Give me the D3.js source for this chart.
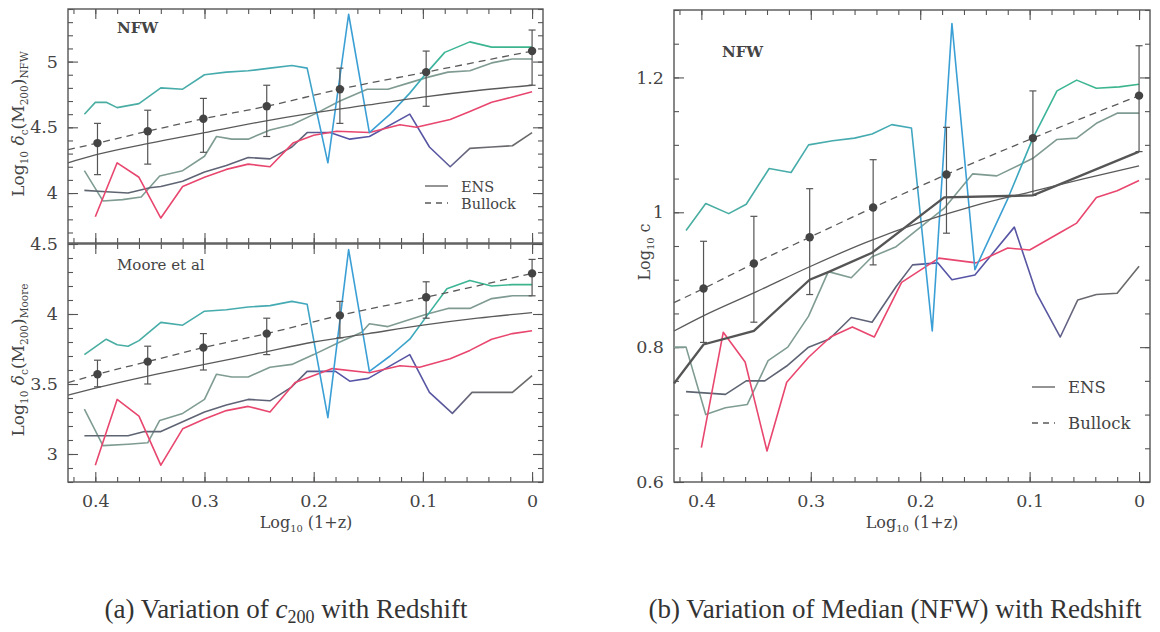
<!DOCTYPE html>
<html>
<head>
<meta charset="utf-8">
<script src="https://cdn.jsdelivr.net/npm/d3@7"></script>
<style>
  body { margin: 0; background: #fff; }
  svg text { font-family: "DejaVu Serif", serif; fill: #444; }
</style>
</head>
<body>
<svg id="chart" width="1160" height="632"></svg>
<script>
//x axis: Log10(1+z), shared by all panels
var xMajor = [0.4, 0.3, 0.2, 0.1, 0];
var zBins = [0.398, 0.352, 0.301, 0.243, 0.176, 0.097, 0];

//panel (a) top: NFW
var nfwTicks = [4, 4.5, 5];
var nfwMed = [4.38, 4.47, 4.565, 4.66, 4.79, 4.92, 5.08];
var nfwHi = [4.53, 4.63, 4.72, 4.82, 4.95, 5.08, 5.24];
var nfwLo = [4.14, 4.22, 4.31, 4.43, 4.53, 4.66, 4.82];
var nfwEns = [[0.425,4.23],[0.4,4.29],[0.35,4.38],[0.3,4.46],[0.25,4.54],[0.2,4.61],[0.15,4.67],[0.1,4.73],[0.05,4.78],[0,4.82]];
var nfwBullock = [[0.425,4.33],[0.398,4.38],[0.352,4.47],[0.301,4.565],[0.243,4.66],[0.176,4.79],[0.097,4.92],[0,5.08]];
var nfwTeal = [[0.41,4.60],[0.40,4.69],[0.39,4.69],[0.38,4.65],[0.36,4.68],[0.34,4.80],[0.32,4.79],[0.30,4.90],[0.28,4.92],[0.26,4.93],[0.24,4.95],[0.22,4.97],[0.206,4.95],[0.187,4.23],[0.168,5.36],[0.149,4.46],[0.13,4.60],[0.112,4.76],[0.096,4.92],[0.08,5.07],[0.057,5.15],[0.037,5.11],[0.018,5.11],[0,5.11]];
var nfwGrey = [[0.41,4.17],[0.393,3.94],[0.375,3.95],[0.358,3.97],[0.341,4.13],[0.32,4.17],[0.30,4.28],[0.289,4.43],[0.275,4.41],[0.26,4.41],[0.24,4.48],[0.22,4.52],[0.197,4.61],[0.176,4.70],[0.151,4.79],[0.132,4.79],[0.112,4.84],[0.096,4.88],[0.077,4.92],[0.057,4.93],[0.037,4.99],[0.018,5.02],[0,5.02]];
var nfwDark = [[0.41,4.02],[0.39,4.01],[0.37,4.00],[0.35,4.04],[0.34,4.05],[0.32,4.09],[0.30,4.16],[0.28,4.21],[0.26,4.27],[0.24,4.26],[0.22,4.35],[0.206,4.46],[0.185,4.46],[0.167,4.41],[0.149,4.43],[0.112,4.60],[0.094,4.35],[0.075,4.20],[0.057,4.34],[0.037,4.35],[0.018,4.36],[0,4.46]];
var nfwRed = [[0.40,3.82],[0.38,4.23],[0.36,4.12],[0.34,3.81],[0.32,4.05],[0.30,4.12],[0.28,4.18],[0.26,4.22],[0.24,4.20],[0.219,4.38],[0.2,4.44],[0.179,4.47],[0.149,4.46],[0.121,4.52],[0.106,4.50],[0.075,4.56],[0.057,4.62],[0.037,4.69],[0.018,4.73],[0,4.77]];

//panel (a) bottom: Moore et al
var mooreTicks = [3, 3.5, 4, 4.5];
var mooreMed = [3.57, 3.66, 3.76, 3.86, 3.99, 4.12, 4.29];
var mooreHi = [3.67, 3.77, 3.86, 3.97, 4.09, 4.23, 4.39];
var mooreLo = [3.48, 3.50, 3.60, 3.71, 3.83, 3.97, 4.13];
var mooreEns = [[0.425,3.42],[0.4,3.47],[0.35,3.56],[0.3,3.64],[0.25,3.72],[0.2,3.80],[0.15,3.86],[0.1,3.92],[0.05,3.97],[0,4.01]];
var mooreBullock = [[0.425,3.51],[0.398,3.57],[0.352,3.66],[0.301,3.76],[0.243,3.86],[0.176,3.99],[0.097,4.12],[0,4.29]];
var mooreTeal = [[0.41,3.71],[0.39,3.82],[0.38,3.78],[0.37,3.77],[0.36,3.81],[0.34,3.94],[0.32,3.92],[0.30,4.02],[0.28,4.03],[0.26,4.05],[0.24,4.06],[0.22,4.09],[0.206,4.07],[0.187,3.26],[0.168,4.46],[0.149,3.59],[0.13,3.70],[0.112,3.82],[0.096,3.99],[0.078,4.18],[0.057,4.24],[0.037,4.20],[0.018,4.21],[0,4.21]];
var mooreGrey = [[0.41,3.32],[0.393,3.06],[0.37,3.07],[0.352,3.08],[0.341,3.24],[0.32,3.29],[0.30,3.39],[0.289,3.57],[0.275,3.55],[0.26,3.55],[0.24,3.62],[0.22,3.64],[0.2,3.71],[0.176,3.80],[0.156,3.87],[0.149,3.93],[0.132,3.91],[0.112,3.96],[0.096,4.00],[0.077,4.04],[0.057,4.04],[0.037,4.11],[0.018,4.13],[0,4.13]];
var mooreDark = [[0.41,3.13],[0.37,3.13],[0.355,3.16],[0.34,3.16],[0.32,3.23],[0.30,3.30],[0.28,3.35],[0.26,3.39],[0.24,3.38],[0.22,3.48],[0.206,3.59],[0.18,3.59],[0.167,3.52],[0.15,3.54],[0.112,3.71],[0.094,3.44],[0.073,3.29],[0.055,3.44],[0.018,3.44],[0,3.56]];
var mooreRed = [[0.40,2.92],[0.38,3.39],[0.36,3.27],[0.34,2.92],[0.32,3.18],[0.30,3.25],[0.28,3.31],[0.26,3.34],[0.24,3.30],[0.217,3.51],[0.183,3.61],[0.149,3.58],[0.121,3.63],[0.103,3.62],[0.075,3.68],[0.057,3.74],[0.037,3.82],[0.018,3.86],[0,3.88]];

//panel (b): median concentration
var cTicks = [0.6, 0.8, 1, 1.2];
var cMed = [0.887, 0.924, 0.963, 1.007, 1.056, 1.110, 1.173];
var cHi = [0.957, 0.994, 1.035, 1.078, 1.126, 1.18, 1.247];
var cLo = [0.807, 0.837, 0.878, 0.922, 0.969, 1.025, 1.09];
var cEns = [[0.425,0.824],[0.4,0.845],[0.35,0.882],[0.3,0.92],[0.25,0.955],[0.2,0.985],[0.15,1.01],[0.1,1.03],[0.05,1.05],[0,1.069]];
var cBullock = [[0.425,0.866],[0.398,0.887],[0.352,0.924],[0.301,0.963],[0.243,1.007],[0.176,1.056],[0.097,1.11],[0,1.173]];
var cThick = [[0.425,0.746],[0.398,0.804],[0.352,0.824],[0.301,0.90],[0.283,0.912],[0.244,0.94],[0.178,1.022],[0.097,1.025],[0,1.09]];
var cTeal = [[0.414,0.973],[0.396,1.013],[0.375,0.998],[0.359,1.012],[0.338,1.065],[0.318,1.059],[0.302,1.10],[0.28,1.106],[0.26,1.11],[0.244,1.116],[0.226,1.13],[0.208,1.125],[0.189,0.824],[0.171,1.28],[0.15,0.915],[0.12,1.02],[0.097,1.11],[0.075,1.18],[0.057,1.196],[0.039,1.184],[0.018,1.186],[0,1.19]];
var cGrey = [[0.425,0.80],[0.414,0.80],[0.396,0.70],[0.378,0.71],[0.358,0.715],[0.339,0.78],[0.321,0.80],[0.302,0.846],[0.284,0.912],[0.263,0.903],[0.244,0.934],[0.222,0.949],[0.178,1.006],[0.152,1.057],[0.13,1.054],[0.097,1.08],[0.075,1.108],[0.057,1.11],[0.039,1.132],[0.02,1.147],[0,1.147]];
var cDark = [[0.414,0.734],[0.378,0.73],[0.359,0.75],[0.342,0.75],[0.322,0.772],[0.302,0.80],[0.283,0.812],[0.263,0.844],[0.244,0.837],[0.222,0.89],[0.207,0.922],[0.184,0.925],[0.171,0.90],[0.15,0.907],[0.114,0.978],[0.094,0.881],[0.072,0.815],[0.056,0.87],[0.039,0.878],[0.02,0.88],[0,0.92]];
var cRed = [[0.40,0.651],[0.38,0.822],[0.36,0.778],[0.34,0.646],[0.322,0.748],[0.302,0.785],[0.282,0.815],[0.262,0.83],[0.242,0.815],[0.217,0.896],[0.183,0.932],[0.149,0.925],[0.12,0.947],[0.10,0.944],[0.072,0.97],[0.057,0.984],[0.039,1.022],[0.02,1.032],[0,1.047]];

//colour stops along x for the multi-coloured runs
var tealStops = [[0.425,"#4aae9e"],[0.215,"#44aab4"],[0.195,"#3a9fd6"],[0.125,"#3b9fd4"],[0.085,"#3cb597"],[0,"#3cb58c"]];
var darkStops = [[0.425,"#5e6670"],[0.21,"#5f6278"],[0.19,"#5654a6"],[0.085,"#5856a2"],[0.055,"#6a6a72"],[0,"#6a6a6a"]];
var greyStops = [[0.425,"#7f9c92"],[0,"#7f9a92"]];
var redStops = [[0.425,"#e8466e"],[0,"#e8466e"]];

var svg = d3.select("#chart");
var defs = svg.append("defs");
var gradId = 0;
var axisColor = "#555";

//draw a set of inward ticks, optionally labelled
var addAxis = function(g, axis, transform) {
  var a = g.append("g").attr("transform", transform).call(axis);
  a.select(".domain").remove();
  a.selectAll("line").attr("stroke", axisColor).attr("stroke-width", 1.1);
  a.selectAll("text")
    .attr("font-size", 17.5)
    .attr("fill", "#444")
    .attr("font-family", "DejaVu Serif");
  return a;
};

var drawPanel = function(p) {
  var x = d3.scaleLinear().domain([0.425, -0.01]).range(p.xr);
  var y = d3.scaleLinear().domain(p.yd).range(p.yr);
  var g = svg.append("g");
  var w = p.xr[1] - p.xr[0];
  var h = p.yr[0] - p.yr[1];
  var xMinor = d3.range(0.42, -0.005, -0.02);
  var yMinor = d3.range(Math.ceil(p.yd[0] / p.minorStep - 1e-6), Math.floor(p.yd[1] / p.minorStep + 1e-6) + 1)
    .map(function(i) { return +(i * p.minorStep).toFixed(3); });

  //ticks on all four sides
  addAxis(g, d3.axisBottom(x).tickValues(xMinor).tickSize(-5).tickFormat(""), "translate(0," + p.yr[0] + ")");
  addAxis(g, d3.axisBottom(x).tickValues(xMajor).tickSize(-10).tickPadding(13)
    .tickFormat(p.xLabels ? d3.format("") : ""), "translate(0," + p.yr[0] + ")");
  addAxis(g, d3.axisTop(x).tickValues(xMinor).tickSize(-5).tickFormat(""), "translate(0," + p.yr[1] + ")");
  addAxis(g, d3.axisTop(x).tickValues(xMajor).tickSize(-10).tickFormat(""), "translate(0," + p.yr[1] + ")");
  addAxis(g, d3.axisLeft(y).tickValues(yMinor).tickSize(-5).tickFormat(""), "translate(" + p.xr[0] + ",0)");
  addAxis(g, d3.axisLeft(y).tickValues(p.yMajor).tickSize(-10).tickPadding(10).tickFormat(d3.format("")), "translate(" + p.xr[0] + ",0)");
  addAxis(g, d3.axisRight(y).tickValues(yMinor).tickSize(-5).tickFormat(""), "translate(" + p.xr[1] + ",0)");
  addAxis(g, d3.axisRight(y).tickValues(p.yMajor).tickSize(-10).tickFormat(""), "translate(" + p.xr[1] + ",0)");

  g.append("rect")
    .attr("x", p.xr[0]).attr("y", p.yr[1])
    .attr("width", w).attr("height", h)
    .attr("fill", "none").attr("stroke", axisColor).attr("stroke-width", 1.4);

  var line = d3.line().x(function(d) { return x(d[0]); }).y(function(d) { return y(d[1]); });
  var smooth = d3.line().curve(d3.curveMonotoneX).x(function(d) { return x(d[0]); }).y(function(d) { return y(d[1]); });

  //coloured runs, each with a gradient along x
  p.series.forEach(function(s) {
    var id = "grad" + gradId++;
    var grad = defs.append("linearGradient").attr("id", id)
      .attr("gradientUnits", "userSpaceOnUse")
      .attr("x1", p.xr[0]).attr("x2", p.xr[1]).attr("y1", 0).attr("y2", 0);
    s.stops.forEach(function(st) {
      grad.append("stop").attr("offset", (x(st[0]) - p.xr[0]) / w).attr("stop-color", st[1]);
    });
    g.append("path").datum(s.data)
      .attr("d", line)
      .attr("fill", "none")
      .attr("stroke", "url(#" + id + ")")
      .attr("stroke-width", 1.6)
      .attr("stroke-linejoin", "round");
  });

  if (p.thick) {
    g.append("path").datum(p.thick).attr("d", line)
      .attr("fill", "none").attr("stroke", "#555").attr("stroke-width", 2.3);
  }

  g.append("path").datum(p.ens).attr("d", smooth)
    .attr("fill", "none").attr("stroke", "#5a5a5a").attr("stroke-width", 1.3);
  g.append("path").datum(p.bullock).attr("d", smooth)
    .attr("fill", "none").attr("stroke", "#5a5a5a").attr("stroke-width", 1.3)
    .attr("stroke-dasharray", "7,5");

  //median points with error bars
  var pts = zBins.map(function(z, i) { return { x: z, m: p.med[i], hi: p.hi[i], lo: p.lo[i] }; });
  var eb = g.selectAll(".eb").data(pts).enter().append("g").attr("class", "eb");
  eb.append("line")
    .attr("x1", function(d) { return x(d.x); }).attr("x2", function(d) { return x(d.x); })
    .attr("y1", function(d) { return y(d.hi); }).attr("y2", function(d) { return y(d.lo); })
    .attr("stroke", "#555").attr("stroke-width", 1.2);
  ["hi", "lo"].forEach(function(k) {
    eb.append("line")
      .attr("x1", function(d) { return x(d.x) - 3.5; }).attr("x2", function(d) { return x(d.x) + 3.5; })
      .attr("y1", function(d) { return y(d[k]); }).attr("y2", function(d) { return y(d[k]); })
      .attr("stroke", "#555").attr("stroke-width", 1.2);
  });
  eb.append("circle")
    .attr("cx", function(d) { return x(d.x); }).attr("cy", function(d) { return y(d.m); })
    .attr("r", 4.2).attr("fill", "#444");

  //panel name
  g.append("text").attr("x", p.xr[0] + p.name[1]).attr("y", p.yr[1] + p.name[2])
    .attr("font-size", 15).attr("font-weight", p.name[3]).attr("fill", "#444").text(p.name[0]);

  //legend
  if (p.legend) {
    var lx = p.xr[1] - p.legend[0];
    var ly = p.yr[1] + p.legend[1];
    var gap = p.legend[2];
    var fs = p.legend[3];
    g.append("line").attr("x1", lx).attr("x2", lx + 23).attr("y1", ly).attr("y2", ly)
      .attr("stroke", "#5a5a5a").attr("stroke-width", 1.3);
    g.append("line").attr("x1", lx).attr("x2", lx + 23).attr("y1", ly + gap).attr("y2", ly + gap)
      .attr("stroke", "#5a5a5a").attr("stroke-width", 1.3).attr("stroke-dasharray", "6,5");
    g.append("text").attr("x", lx + 36).attr("y", ly + fs * 0.38).attr("font-size", fs).text("ENS");
    g.append("text").attr("x", lx + 36).attr("y", ly + gap + fs * 0.38).attr("font-size", fs).text("Bullock");
  }
  return x;
};

var leftX = [68, 543];
drawPanel({
  xr: leftX, yr: [243, 9], yd: [3.62, 5.4], yMajor: nfwTicks, minorStep: 0.1, xLabels: false,
  series: [
    { data: nfwGrey, stops: greyStops },
    { data: nfwDark, stops: darkStops },
    { data: nfwRed, stops: redStops },
    { data: nfwTeal, stops: tealStops }
  ],
  ens: nfwEns, bullock: nfwBullock, med: nfwMed, hi: nfwHi, lo: nfwLo,
  name: ["NFW", 49, 24, 600], legend: [118, 177, 17, 14.5]
});
drawPanel({
  xr: leftX, yr: [482, 244], yd: [2.8, 4.5], yMajor: mooreTicks, minorStep: 0.1, xLabels: true,
  series: [
    { data: mooreGrey, stops: greyStops },
    { data: mooreDark, stops: darkStops },
    { data: mooreRed, stops: redStops },
    { data: mooreTeal, stops: tealStops }
  ],
  ens: mooreEns, bullock: mooreBullock, med: mooreMed, hi: mooreHi, lo: mooreLo,
  name: ["Moore et al", 49, 26, 400]
});
drawPanel({
  xr: [674, 1150], yr: [482, 10], yd: [0.6, 1.3], yMajor: cTicks, minorStep: 0.05, xLabels: true,
  series: [
    { data: cGrey, stops: greyStops },
    { data: cDark, stops: darkStops },
    { data: cRed, stops: redStops },
    { data: cTeal, stops: tealStops }
  ],
  thick: cThick,
  ens: cEns, bullock: cBullock, med: cMed, hi: cHi, lo: cLo,
  name: ["NFW", 48, 47, 600], legend: [118, 377, 36, 16.5]
});

//axis titles with subscripts
var subText = function(sel, parts, size) {
  parts.forEach(function(pt) {
    var t = sel.append("tspan").text(pt[0]);
    if (pt[1] === "sub") t.attr("font-size", size * 0.62).attr("dy", 4);
    if (pt[1] === "up") t.attr("dy", -4);
    if (pt[2]) t.attr("font-style", "italic");
  });
};

var xTitle = [["Log"], ["10", "sub"], [" (1+z)", "up"]];
[[306, 528], [912, 528]].forEach(function(pos) {
  var t = svg.append("text").attr("x", pos[0]).attr("y", pos[1])
    .attr("text-anchor", "middle").attr("font-size", 16);
  subText(t, xTitle, 16);
});

var yTitle = function(cx, cy, tag) {
  var t = svg.append("text").attr("transform", "translate(" + cx + "," + cy + ") rotate(-90)")
    .attr("text-anchor", "middle").attr("font-size", 17);
  subText(t, [["Log"], ["10", "sub"], [" δ", "up", true], ["c", "sub"], ["(M", "up"], ["200", "sub"], [")", "up"], [tag, "sub"]], 17);
};
yTitle(24, 124, "NFW");
yTitle(24, 360, "Moore");
var ct = svg.append("text").attr("transform", "translate(650,252) rotate(-90)")
  .attr("text-anchor", "middle").attr("font-size", 16);
subText(ct, [["Log"], ["10", "sub"], [" c", "up"]], 16);

//captions
var cap = svg.append("text").attr("x", 286).attr("y", 618).attr("text-anchor", "middle")
  .attr("font-size", 27).style("font-family", "Liberation Serif").style("fill", "#333");
cap.append("tspan").text("(a) Variation of ");
cap.append("tspan").text("c").attr("font-style", "italic");
cap.append("tspan").text("200").attr("font-size", 18).attr("dy", 5);
cap.append("tspan").text(" with Redshift").attr("dy", -5);
svg.append("text").attr("x", 895).attr("y", 618).attr("text-anchor", "middle")
  .attr("font-size", 27).style("font-family", "Liberation Serif").style("fill", "#333")
  .text("(b) Variation of Median (NFW) with Redshift");
</script>
</body>
</html>
